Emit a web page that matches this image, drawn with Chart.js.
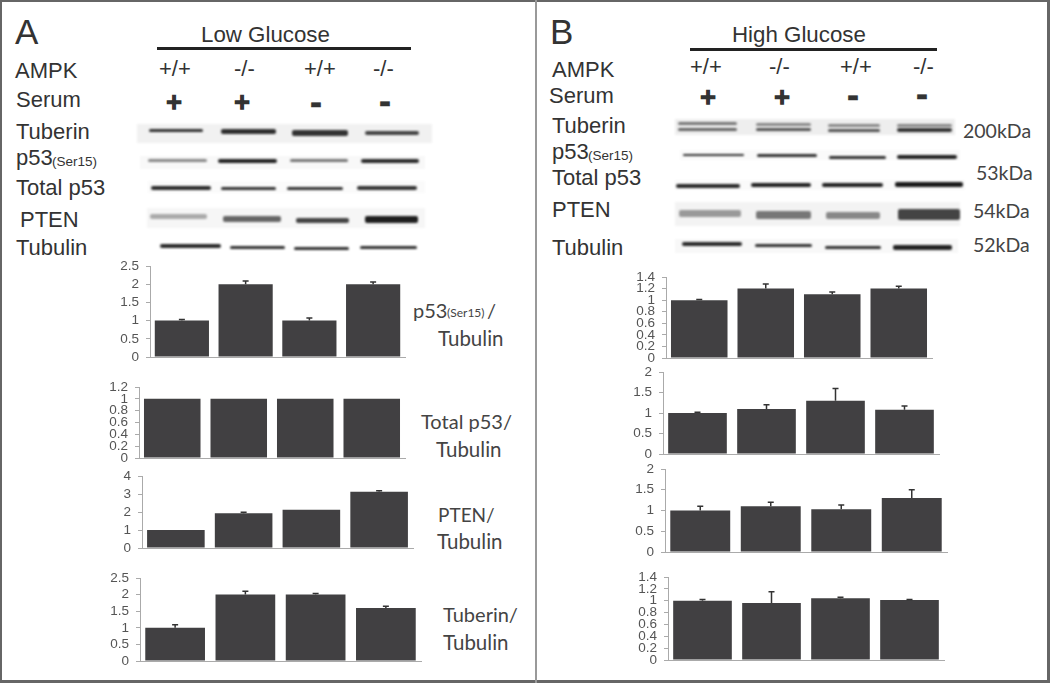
<!DOCTYPE html>
<html>
<head>
<meta charset="utf-8">
<script src="https://cdn.jsdelivr.net/npm/chart.js@4"></script>
<style>
html, body { margin: 0; padding: 0; background: #fff; }
#page { position: relative; width: 1050px; height: 683px; overflow: hidden; background: #fff; }
#page canvas { position: absolute; }
.frame { position: absolute; left: 0; top: 0; width: 1050px; height: 683px; box-sizing: border-box;
    border-style: solid; border-color: #666; border-width: 2px 3px 3px 2px; }
.divider { position: absolute; left: 535px; top: 0; width: 2px; height: 683px; background: #999; }
.txt { position: absolute; white-space: pre; line-height: 1; color: #333; }
.blot { position: absolute; }
</style>
</head>
<body>
<div id="page">
    <div class="frame"></div>
    <div class="divider"></div>
</div>
<script>
const categories = ['+/+', '-/-', '+/+', '-/-'];

// panel A, low glucose
const p53LowValues = [1, 2, 1, 2];
const p53LowTops = [1.03, 2.09, 1.07, 2.06];
const p53LowTicks = [0, 0.5, 1, 1.5, 2, 2.5];

const totalLowValues = [1, 1, 1, 1];
const totalLowTops = [1, 1, 1, 1];
const totalLowTicks = [0, 0.2, 0.4, 0.6, 0.8, 1, 1.2];

const ptenLowValues = [1, 1.93, 2.13, 3.13];
const ptenLowTops = [1, 1.98, 2.13, 3.18];
const ptenLowTicks = [0, 1, 2, 3, 4];

const tuberinLowValues = [1, 2, 2, 1.6];
const tuberinLowTops = [1.09, 2.1, 2.03, 1.65];
const tuberinLowTicks = [0, 0.5, 1, 1.5, 2, 2.5];

// panel B, high glucose
const p53HighValues = [1, 1.2, 1.1, 1.2];
const p53HighTops = [1.01, 1.28, 1.14, 1.24];
const p53HighTicks = [0, 0.2, 0.4, 0.6, 0.8, 1, 1.2, 1.4];

const totalHighValues = [1, 1.1, 1.3, 1.08];
const totalHighTops = [1.02, 1.2, 1.6, 1.17];
const totalHighTicks = [0, 0.5, 1, 1.5, 2];

const ptenHighValues = [1, 1.1, 1.03, 1.3];
const ptenHighTops = [1.1, 1.2, 1.13, 1.5];
const ptenHighTicks = [0, 0.5, 1, 1.5, 2];

const tuberinHighValues = [1, 0.96, 1.04, 1.01];
const tuberinHighTops = [1.02, 1.15, 1.06, 1.02];
const tuberinHighTicks = [0, 0.2, 0.4, 0.6, 0.8, 1, 1.2, 1.4];

const page = document.getElementById('page');

function addText(str, x, base, size, font, extra) {
    const el = document.createElement('span');
    el.className = 'txt';
    el.textContent = str;
    el.style.left = x + 'px';
    el.style.top = (base + 1 - size * 0.85) + 'px';
    el.style.fontSize = size + 'px';
    el.style.fontFamily = font || '"Liberation Sans", Arial, sans-serif';
    if (extra) Object.assign(el.style, extra);
    page.appendChild(el);
    return el;
}

const LAB = '"Lato", sans-serif';

// row labels of the blots: text, x, baseline
const leftLabels = [
    ['AMPK', 15, 78], ['Serum', 16, 107], ['Tuberin', 16, 139], ['p53', 16, 165],
    ['Total p53', 16, 195], ['PTEN', 20, 227], ['Tubulin', 16, 255],
    ['AMPK', 552, 77], ['Serum', 549, 103], ['Tuberin', 552, 133], ['p53', 552, 159],
    ['Total p53', 552, 185], ['PTEN', 552, 217], ['Tubulin', 552, 255]
];
for (let l of leftLabels) addText(l[0], l[1], l[2], 22);
addText('(Ser15)', 52, 165, 13.5);
addText('(Ser15)', 588, 159, 13.5);

addText('A', 15, 43, 35);
addText('B', 550, 43, 35);
addText('Low Glucose', 201, 42, 22.3);
addText('High Glucose', 732, 42, 22.3);

// genotype row
const genotypeLabels = [
    ['+/+', 159, 76], ['-/-', 234, 76], ['+/+', 304, 76], ['-/-', 373, 76],
    ['+/+', 690, 74], ['-/-', 769, 74], ['+/+', 840, 74], ['-/-', 913, 74]
];
for (let l of genotypeLabels) addText(l[0], l[1], l[2], 22);

// serum row, centred on x,y
const serumMarks = [
    ['+', 174, 102], ['+', 242, 102], ['-', 316, 104], ['-', 385, 103],
    ['+', 708, 97], ['+', 782, 97], ['-', 853, 97], ['-', 922, 96]
];
for (let m of serumMarks) {
    const size = m[0] === '+' ? 21 : 30;
    const el = addText(m[0], m[1], m[2], size, '"DejaVu Sans", sans-serif', {
        fontWeight: 'bold', transform: 'translate(-50%, -50%)', color: '#333',
        webkitTextStroke: m[0] === '+' ? '1.5px #333' : '0.5px #333'
    });
    el.style.top = m[2] + 'px';
}

// labels next to the bar charts and the sizes
const sideLabels = [
    ['p53', 413, 316, 20], ['(Ser15)', 447, 316, 12], ['/', 487, 316, 20], ['Tubulin', 438, 344, 20.5],
    ['Total p53/', 421, 427, 20], ['Tubulin', 436, 455, 20.5],
    ['PTEN/', 438, 520, 19], ['Tubulin', 437, 547, 20.5],
    ['Tuberin/', 443, 620, 20], ['Tubulin', 443, 648, 20.5],
    ['200kDa', 963, 137, 19.5], ['53kDa', 976, 179, 19.5], ['54kDa', 973, 217, 19.5], ['52kDa', 973, 251, 19.5]
];
for (let l of sideLabels) addText(l[0], l[1], l[2], l[3], LAB, { color: '#444' });

// rules under the titles
function addBlock(x0, x1, cy, h, color, blur, radius) {
    const el = document.createElement('div');
    el.className = 'blot';
    el.style.left = x0 + 'px';
    el.style.width = (x1 - x0) + 'px';
    el.style.top = (cy - h / 2) + 'px';
    el.style.height = h + 'px';
    el.style.background = color;
    if (blur) el.style.filter = 'blur(' + blur + 'px)';
    if (radius) el.style.borderRadius = radius + 'px';
    page.appendChild(el);
}
addBlock(157, 411, 48.5, 3, '#222');
addBlock(690, 937, 49, 3, '#222');

// pale backing of the cropped blots
const blotBacks = [
    [137, 432, 133, 19, '#f1f1f1'], [140, 425, 162, 13, '#f8f8f8'], [148, 425, 187, 12, '#fafafa'], [147, 425, 218, 20, '#f6f6f6'],
    [675, 955, 127, 16, '#eeeeee'], [680, 960, 155, 10, '#fafafa'], [675, 965, 185, 10, '#fafafa'], [675, 960, 214, 24, '#f3f3f3'], [675, 958, 246, 14, '#f8f8f8']
];
for (let b of blotBacks) addBlock(b[0], b[1], b[2], b[3], b[4], 1);

// western blot bands: x0, x1, centre y, height, grey
const blotBands = [
    [149, 203, 130.5, 3, '#333'], [221, 276, 131, 5, '#2e2e2e'], [292, 348, 132.5, 6, '#333'], [365, 419, 133, 4, '#444'],
    [148, 207, 160.5, 3, '#888'], [218, 277, 160.5, 4, '#222'], [290, 348, 160.5, 3, '#777'], [361, 419, 160.5, 4, '#2a2a2a'],
    [151, 211, 188, 3.5, '#2a2a2a'], [221, 276, 188, 3, '#333'], [287, 343, 188, 3, '#333'], [357, 417, 188, 4, '#333'],
    [150, 207, 216, 5, '#aaa'], [223, 281, 219, 6, '#666'], [296, 349, 220, 5, '#444'], [365, 418, 219, 7, '#1e1e1e'],
    [160, 221, 246, 3.5, '#2a2a2a'], [230, 285, 247, 3, '#333'], [294, 349, 248, 3, '#333'], [360, 417, 247.5, 3, '#333'],

    [678, 737, 123, 3, '#777'], [678, 737, 129, 3, '#666'], [756, 811, 124, 3, '#888'], [756, 811, 129, 3, '#555'],
    [828, 880, 125, 3, '#888'], [828, 880, 130, 3, '#555'], [897, 952, 125, 3, '#888'], [897, 952, 130, 4, '#333'],
    [683, 744, 155, 2.5, '#333'], [757, 817, 155.5, 3, '#333'], [829, 886, 157, 3, '#333'], [897, 957, 156.5, 4, '#222'],
    [676, 740, 185.5, 4, '#2a2a2a'], [751, 811, 185, 4, '#222'], [822, 883, 185, 4, '#222'], [895, 963, 184, 5, '#1a1a1a'],
    [679, 741, 213, 7, '#999'], [756, 811, 215, 8, '#777'], [826, 880, 215, 7, '#888'], [898, 960, 214, 11, '#444'],
    [682, 742, 244, 3.5, '#2a2a2a'], [755, 812, 245.5, 3.5, '#333'], [825, 881, 247.5, 3, '#333'], [893, 952, 247, 5, '#222']
];
for (let b of blotBands) addBlock(b[0], b[1], b[2], b[3], b[4], 0.8, 2);

// one small bar chart with its plot box given in page pixels
// top and bottom room has to beat half a tick label plus the tick padding
const PAD_L = 40, PAD_T = 16, PAD_R = 4, PAD_B = 16;

const errorBars = {
    id: 'errorBars',
    afterDatasetsDraw(chart, args, opts) {
        const bars = chart.getDatasetMeta(0).data;
        const y = chart.scales.y;
        const ctx = chart.ctx;
        ctx.save();
        ctx.strokeStyle = '#333';
        ctx.lineWidth = 1.5;
        bars.forEach((bar, i) => {
            if (opts.tops[i] <= chart.data.datasets[0].data[i]) return;
            const top = y.getPixelForValue(opts.tops[i]);
            ctx.beginPath();
            ctx.moveTo(bar.x, bar.y);
            ctx.lineTo(bar.x, top);
            ctx.moveTo(bar.x - 3, top);
            ctx.lineTo(bar.x + 3, top);
            ctx.stroke();
        });
        ctx.restore();
    }
};

function makeBars(box, values, tops, ticks) {
    const w = box.x1 - box.x0, h = box.y0 - box.y1;
    const canvas = document.createElement('canvas');
    canvas.style.left = (box.x0 - PAD_L) + 'px';
    canvas.style.top = (box.y1 - PAD_T) + 'px';
    canvas.width = w + PAD_L + PAD_R;
    canvas.height = h + PAD_T + PAD_B;
    page.appendChild(canvas);

    new Chart(canvas.getContext('2d'), {
        type: 'bar',
        data: {
            labels: categories,
            datasets: [{
                data: values,
                backgroundColor: '#414042',
                borderColor: '#414042',
                barPercentage: 0.85,
                categoryPercentage: 1
            }]
        },
        options: {
            responsive: false,
            animation: false,
            layout: {
                autoPadding: false,
                padding: { top: PAD_T, right: PAD_R, bottom: PAD_B, left: 0 }
            },
            plugins: {
                legend: { display: false },
                tooltip: { enabled: false },
                errorBars: { tops: tops }
            },
            scales: {
                x: {
                    afterFit: s => { s.height = 0; },
                    ticks: { display: false },
                    grid: {
                        offset: true,
                        drawOnChartArea: false,
                        tickLength: 3,
                        tickColor: c => c.index === values.length ? '#aaa' : 'transparent'
                    },
                    border: { color: '#aaa' }
                },
                y: {
                    min: 0,
                    max: ticks[ticks.length - 1],
                    afterFit: s => { s.width = PAD_L; },
                    afterBuildTicks: s => { s.ticks = ticks.map(v => ({ value: v })); },
                    ticks: {
                        autoSkip: false,
                        padding: 7,
                        color: '#555',
                        font: { family: '"Liberation Sans", Arial, sans-serif', size: 13.5 },
                        callback: v => String(v)
                    },
                    grid: { drawOnChartArea: false, tickLength: 4, color: '#aaa' },
                    border: { color: '#aaa' }
                }
            }
        },
        plugins: [errorBars]
    });
}

makeBars({ x0: 150, x1: 405, y0: 357, y1: 266 }, p53LowValues, p53LowTops, p53LowTicks);
makeBars({ x0: 139, x1: 405, y0: 458, y1: 387 }, totalLowValues, totalLowTops, totalLowTicks);
makeBars({ x0: 142, x1: 413, y0: 548, y1: 476 }, ptenLowValues, ptenLowTops, ptenLowTicks);
makeBars({ x0: 140, x1: 421, y0: 661, y1: 578 }, tuberinLowValues, tuberinLowTops, tuberinLowTicks);
makeBars({ x0: 666, x1: 932, y0: 358, y1: 277 }, p53HighValues, p53HighTops, p53HighTicks);
makeBars({ x0: 663, x1: 939, y0: 454, y1: 372 }, totalHighValues, totalHighTops, totalHighTicks);
makeBars({ x0: 665, x1: 947, y0: 552, y1: 469 }, ptenHighValues, ptenHighTops, ptenHighTicks);
makeBars({ x0: 668, x1: 944, y0: 660, y1: 577 }, tuberinHighValues, tuberinHighTops, tuberinHighTicks);
</script>
</body>
</html>
